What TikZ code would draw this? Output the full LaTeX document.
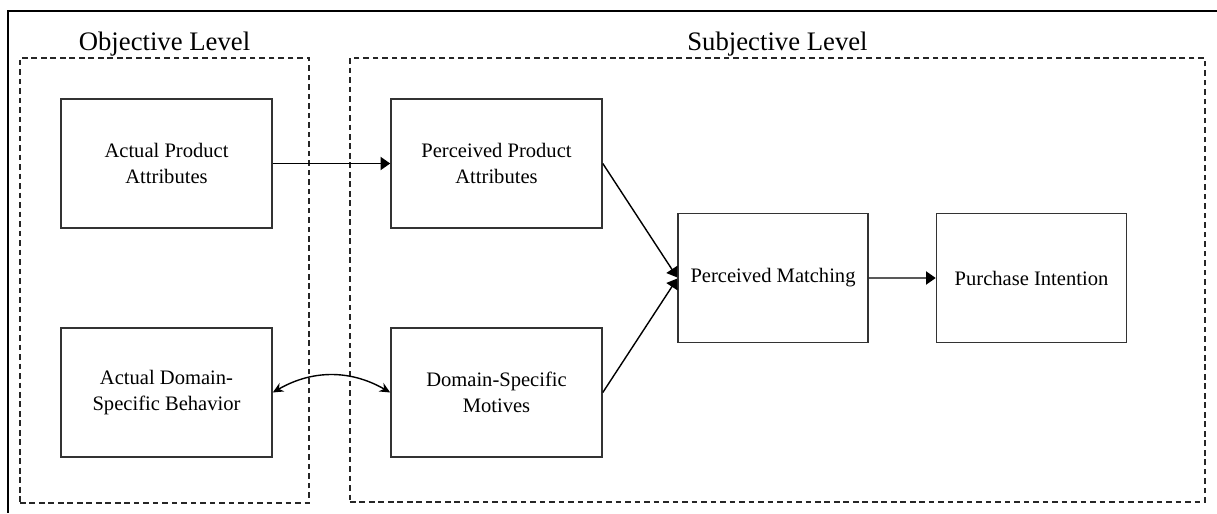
\documentclass[tikz,border=0pt]{standalone}
\usepackage{fontspec}
\setmainfont{Liberation Serif}
\usetikzlibrary{arrows.meta}
\begin{document}
\begin{tikzpicture}[scale=0.2,
  level/.style={draw=black!85, dash pattern=on 3.2pt off 2.2pt, line width=1.1pt},
  factor/.style={draw=black!80, line width=0.9pt, align=center, minimum width=4.22cm, minimum height=2.58cm, font=\fontsize{11.7}{14.7}\selectfont},
  title/.style={anchor=base, font=\fontsize{15.2}{18}\selectfont},
  link/.style={draw, line width=0.8pt, -{Triangle[length=5.5pt,width=7.5pt]}}]
\tikzstyle{every node}+=[inner sep=0pt]
\useasboundingbox (0,0) rectangle (121.7,-51.3);
\draw [black, line width=1.7pt] (121.7,-1.1) -- (0.8,-1.1) -- (0.8,-51.3);
% levels
\node [level, minimum width=5.78cm, minimum height=8.9cm] (obj) at (16.45,-28.05) {};
\node [level, minimum width=17.1cm, minimum height=8.88cm] (subj) at (77.75,-28) {};
\node [title] (objt) at (16.45,-5) {Objective Level};
\node [title] (subjt) at (77.75,-5) {Subjective Level};
% factors
\node [factor] (apa) at (16.65,-16.35) {Actual Product\\Attributes};
\node [factor] (ppa) at (49.65,-16.35) {Perceived Product\\Attributes};
\node [factor] (adb) at (16.65,-39.25) {Actual Domain-\\Specific Behavior};
\node [factor] (dsm) at (49.65,-39.25) {Domain-Specific\\Motives};
\node [factor, minimum width=3.8cm] (pm) at (77.3,-27.8) {Perceived Matching};
\node [factor, minimum width=3.8cm] (pi) at (103.15,-27.8) {Purchase Intention};
% links
\draw [link] (apa) -- (ppa);
\draw [link] (ppa.east) -- ([yshift=1.7pt]pm.west);
\draw [link] (dsm.east) -- ([yshift=-1.7pt]pm.west);
\draw [link] (pm) -- (pi);
\draw [line width=0.8pt, {Stealth[length=6pt,width=5.5pt]}-{Stealth[length=6pt,width=5.5pt]}] (adb.east) to[bend left=30] (dsm.west);
\end{tikzpicture}
\end{document}
